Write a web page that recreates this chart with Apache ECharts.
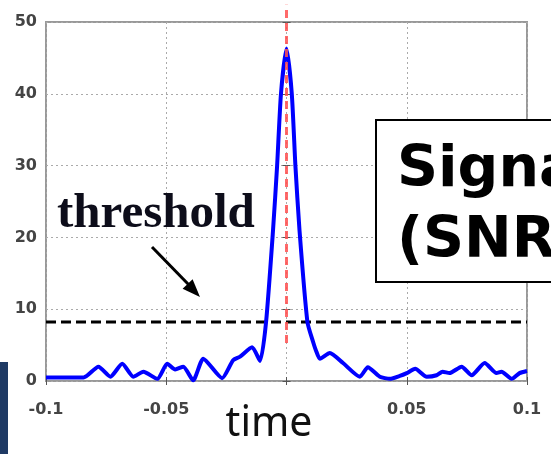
<!DOCTYPE html>
<html>
<head>
<meta charset="utf-8">
<script src="https://cdn.jsdelivr.net/npm/echarts@6/dist/echarts.min.js"></script>
<style>
html,body{margin:0;padding:0;background:#fff;}
#chart{width:551px;height:454px;}
</style>
</head>
<body>
<div id="chart"></div>
<script>
// ---- data ----
var times = [-0.1, -0.0844, -0.0782, -0.0732, -0.0683, -0.0637, -0.0595, -0.0537, -0.0496, -0.0463,
  -0.0429, -0.0388, -0.0346, -0.0268, -0.0222, -0.0193, -0.0143, -0.011, -0.0085, -0.0056,
  -0.0039, -0.0023, 0, 0.0022, 0.0037, 0.0054, 0.0087, 0.011, 0.0122, 0.0139,
  0.018, 0.0235, 0.0305, 0.0338, 0.0388, 0.043, 0.0471, 0.05, 0.0535, 0.0583,
  0.0624, 0.0649, 0.0678, 0.0728, 0.077, 0.0824, 0.0873, 0.0894, 0.0936, 0.0969, 0.1];
var snr = [0.5, 0.5, 2.0, 0.6, 2.4, 0.6, 1.3, 0.3, 2.4, 1.6,
  2.0, 0.1, 3.1, 0.4, 2.9, 3.4, 4.7, 2.8, 8.2, 21,
  30, 40, 46.3, 40, 30, 21, 8.2, 5.5, 4.3, 3.1,
  3.9, 2.5, 0.6, 1.9, 0.6, 0.3, 0.7, 1.1, 1.7, 0.6,
  0.8, 1.3, 1.1, 2.0, 0.8, 2.5, 1.1, 1.3, 0.3, 1.1, 1.4];
var thresholdValue = 8.2;
var thresholdRange = [-0.1, 0.1];
var peakTime = 0;
var peakMarkerRange = [5.3, 52.4];
var xTicks = [-0.1, -0.05, 0, 0.05, 0.1];
var yTicks = [0, 10, 20, 30, 40, 50];
var thresholdLabel = 'threshold';
var boxLines = ['Signal', '(SNR)'];
var xAxisTitle = 'time';

// ---- build ----
var curve = times.map(function (t, i) { return [t, snr[i]]; });
var thrLine = thresholdRange.map(function (t) { return [t, thresholdValue]; });
var peakLine = peakMarkerRange.map(function (v) { return [peakTime, v]; });

var chart = echarts.init(document.getElementById('chart'), null, {renderer: 'canvas'});
var labelStyle = {fontFamily: 'DejaVu Sans', fontWeight: 'bold', fontSize: 16, color: '#444'};

chart.setOption({
  animation: false,
  backgroundColor: '#fff',
  grid: {left: 46, top: 22, right: 24, bottom: 73, show: true, borderColor: '#999', borderWidth: 2, backgroundColor: 'transparent'},
  xAxis: [{
    type: 'value', min: xTicks[0], max: xTicks[xTicks.length - 1], interval: 0.05,
    axisLine: {show: false},
    axisTick: {show: true, inside: true, length: 4, lineStyle: {color: '#555'}},
    splitLine: {show: true, lineStyle: {color: '#aaa', type: [2, 3], width: 1}},
    axisLabel: Object.assign({margin: 21, formatter: function (v) {
      var r = Math.round(v * 100) / 100; return r === 0 ? '' : String(r);
    }}, labelStyle)
  }, {
    type: 'value', position: 'top', min: xTicks[0], max: xTicks[xTicks.length - 1], interval: 0.05,
    axisLine: {show: false}, axisLabel: {show: false}, splitLine: {show: false},
    axisTick: {show: true, inside: true, length: 4, lineStyle: {color: '#555'}}
  }],
  yAxis: [{
    type: 'value', min: yTicks[0], max: yTicks[yTicks.length - 1], interval: 10,
    axisLine: {show: false},
    axisTick: {show: true, inside: true, length: 4, lineStyle: {color: '#555'}},
    splitLine: {show: true, lineStyle: {color: '#aaa', type: [2, 3], width: 1}},
    axisLabel: Object.assign({margin: 9}, labelStyle)
  }, {
    type: 'value', position: 'right', min: yTicks[0], max: yTicks[yTicks.length - 1], interval: 10,
    axisLine: {show: false}, axisLabel: {show: false}, splitLine: {show: false},
    axisTick: {show: true, inside: true, length: 4, lineStyle: {color: '#555'}}
  }],
  series: [{
    type: 'line', data: thrLine, symbol: 'none', z: 3,
    lineStyle: {color: '#000', width: 3, type: [10, 5]}
  }, {
    type: 'line', data: curve, symbol: 'none', smooth: 0.2, z: 4,
    lineStyle: {color: '#0000ff', width: 4}
  }, {
    type: 'line', data: peakLine, symbol: 'none', clip: false, z: 5,
    lineStyle: {color: 'rgba(255,80,80,0.85)', width: 3, type: [8, 5]}
  }],
  graphic: [
    {type: 'rect', shape: {x: 0, y: 362, width: 8, height: 92}, style: {fill: '#1f3a64'}, z: 10},
    {type: 'rect', shape: {x: 376, y: 120, width: 220, height: 162}, style: {fill: '#fff', stroke: '#000', lineWidth: 2}, z: 10},
    {type: 'text', x: 397, y: 171, z: 11, style: {text: boxLines[0], font: 'bold 57px "DejaVu Sans"', fill: '#000', verticalAlign: 'middle', align: 'left'}},
    {type: 'text', x: 397, y: 242, z: 11, style: {text: boxLines[1], font: 'bold 57px "DejaVu Sans"', fill: '#000', verticalAlign: 'middle', align: 'left'}},
    {type: 'text', x: 57, y: 214, z: 11, style: {text: thresholdLabel, font: 'bold 49px "Liberation Serif"', fill: '#0d0d1a', verticalAlign: 'middle', align: 'left'}},
    {type: 'line', shape: {x1: 152, y1: 247, x2: 190, y2: 286}, style: {stroke: '#000', lineWidth: 3}, z: 11},
    {type: 'polygon', shape: {points: [[200, 297], [182.6, 288.8], [192.6, 279.2]]}, style: {fill: '#000'}, z: 11},
    {type: 'text', x: 269, y: 424, z: 11, style: {text: xAxisTitle, font: '41px "Noto Sans"', fill: '#111', verticalAlign: 'middle', align: 'center'}}
  ]
});
</script>
</body>
</html>
